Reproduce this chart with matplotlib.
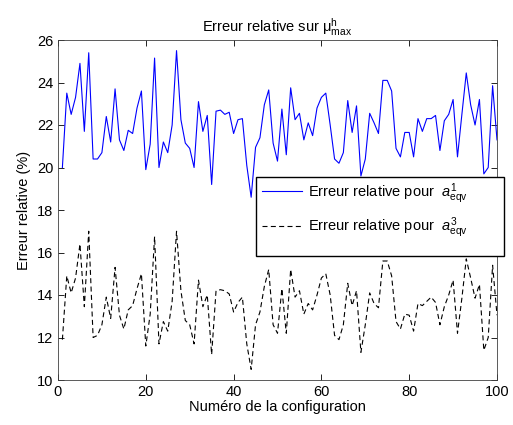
import numpy as np
import matplotlib
matplotlib.use("Agg")
import matplotlib.pyplot as plt
from matplotlib.patches import Rectangle

plt.rcParams['font.family'] = ['Liberation Sans', 'DejaVu Sans']
plt.rcParams['mathtext.fontset'] = 'custom'
plt.rcParams['mathtext.rm'] = 'Liberation Sans'
plt.rcParams['mathtext.it'] = 'Liberation Sans:italic'
plt.rcParams['mathtext.bf'] = 'Liberation Sans:bold'

config = np.arange(1, 101)

err_a1 = [20.0, 23.5, 22.5, 23.3, 24.9, 21.7, 25.4, 20.4, 20.4, 20.7,
          22.4, 21.2, 23.7, 21.3, 20.8, 21.75, 21.6, 22.8, 23.6, 19.9,
          21.1, 25.15, 20.0, 21.2, 20.7, 22.0, 25.5, 22.25, 21.15, 20.9,
          20.0, 23.1, 21.7, 22.45, 19.2, 22.65, 22.7, 22.5, 22.6, 21.6,
          22.25, 22.3, 20.1, 18.6, 20.95, 21.4, 22.95, 23.65, 21.15, 20.3,
          22.75, 20.6, 23.75, 22.25, 22.55, 21.3, 22.1, 21.5, 22.8, 23.3,
          23.5, 22.0, 20.4, 20.2, 20.7, 23.15, 21.65, 22.9, 19.6, 20.4,
          22.55, 22.1, 21.6, 24.1, 24.1, 23.6, 20.9, 20.5, 21.65, 21.65,
          20.5, 22.3, 21.7, 22.3, 22.3, 22.45, 20.8, 22.2, 22.5, 23.2,
          20.5, 22.5, 24.45, 22.95, 22.0, 23.2, 19.7, 20.0, 23.85, 21.3]

err_a3 = [11.9, 14.9, 14.1, 14.8, 16.4, 13.45, 17.0, 12.0, 12.1, 12.6,
          13.9, 12.9, 15.3, 13.05, 12.4, 13.3, 13.5, 14.3, 15.0, 11.6,
          13.1, 16.75, 11.7, 12.75, 12.3, 13.7, 17.0, 14.2, 12.8, 12.6,
          11.7, 14.7, 13.45, 14.0, 11.2, 14.2, 14.25, 14.2, 14.05, 13.2,
          13.65, 13.9, 11.7, 10.5, 12.6, 13.2, 14.4, 15.2, 12.6, 12.2,
          14.3, 12.2, 15.2, 13.9, 14.2, 13.1, 13.6, 13.3, 14.0, 14.8,
          15.0, 14.0, 12.1, 11.9, 12.6, 14.55, 13.5, 14.2, 11.3, 12.6,
          14.1, 13.6, 13.4, 15.6, 15.6, 14.9, 12.75, 12.4, 13.1, 13.05,
          12.3, 13.6, 13.5, 13.7, 13.9, 13.65, 12.6, 13.45, 14.0, 14.7,
          12.2, 13.85, 15.7, 14.8, 13.85, 14.5, 11.4, 12.0, 15.4, 13.05]

xticks = [0, 20, 40, 60, 80, 100]
yticks = [10, 12, 14, 16, 18, 20, 22, 24, 26]

W, H = 513, 425
fig = plt.figure(figsize=(W/100, H/100), dpi=100)
ax = fig.add_axes([58/W, 45/H, 439/W, 340/H])

ax.plot(config, err_a1, color=(0, 0, 1), lw=0.8,
        label=r'Erreur relative pour  $a^{1}_{\mathrm{eqv}}$')
ax.plot(config, err_a3, color='black', lw=0.8, dashes=(4.5, 3),
        label=r'Erreur relative pour  $a^{3}_{\mathrm{eqv}}$')

ax.set_xlim(0, 100)
ax.set_ylim(10, 26)
ax.set_xticks(xticks)
ax.set_yticks(yticks)
ax.tick_params(direction='in', top=True, right=True, length=4, width=0.6,
               labelsize=10.5, colors='black')
for s in ax.spines.values():
    s.set_linewidth(0.6)
    s.set_color('#404040')

ax.set_title(r'Erreur relative sur μ$^{\mathrm{h}}_{\mathrm{max}}$', fontsize=10.5, pad=6)
ax.set_xlabel('Numéro de la configuration', fontsize=10.5, labelpad=1)
ax.set_ylabel('Erreur relative (%)', fontsize=10.5, labelpad=4)

# legend box (white, black border), slightly overhanging the axes like the original
box = Rectangle((256/W, (H-256)/H), 248/W, 79/H, transform=fig.transFigure,
                facecolor='white', edgecolor='black', lw=1.0, zorder=4,
                clip_on=False)
ax.add_patch(box)

leg = ax.legend(loc='upper left', bbox_to_anchor=(262/W, (H-181)/H),
                bbox_transform=fig.transFigure, fontsize=10.5, frameon=False,
                borderpad=0, borderaxespad=0, labelspacing=0.7,
                handlelength=2.75, handletextpad=0.4)
leg.set_zorder(5)

fig.savefig('out.png', dpi=100)
